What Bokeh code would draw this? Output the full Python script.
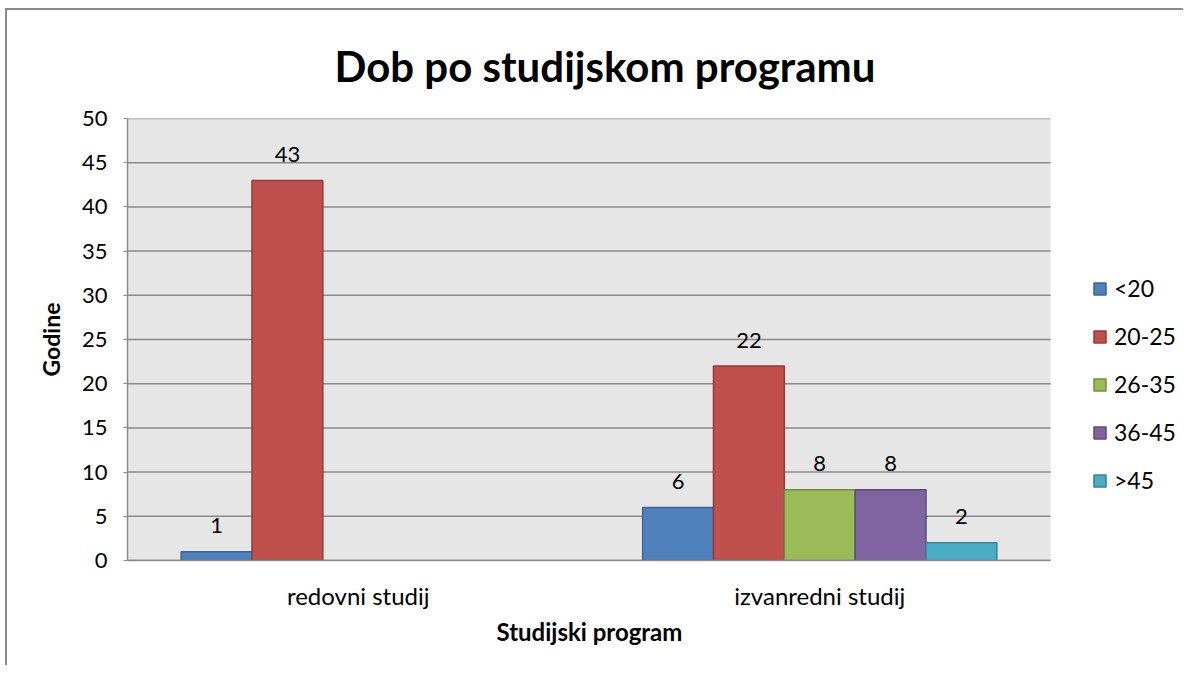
from bokeh.plotting import figure
from bokeh.models import (ColumnDataSource, FixedTicker, Legend, LegendItem, Range1d,
                          BoxAnnotation, Title)
from bokeh.core.properties import value
from bokeh.embed import file_html
from bokeh.resources import INLINE

categories = ["redovni studij", "izvanredni studij"]
groups = ["<20", "20-25", "26-35", "36-45", ">45"]
redovni = [1, 43, None, None, None]
izvanredni = [6, 22, 8, 8, 2]
fills = ["#4F81BD", "#C0504D", "#9BBB59", "#8064A2", "#4BACC6"]
edges = ["#3A6595", "#8E3B39", "#738C41", "#5E4A78", "#378096"]
y_ticks = [0, 5, 10, 15, 20, 25, 30, 35, 40, 45, 50]

FONT = "Lato"
GRID = "#8a8a8a"

n_cat = len(categories)
# frame extends past the plot area to host the legend (plot area = 0..n_cat)
x_end = n_cat * 1058 / 923

p = figure(width=1178, height=657, output_backend="svg", toolbar_location=None,
           x_range=Range1d(0, x_end), y_range=Range1d(0, 50),
           min_border_left=120, min_border_right=0, min_border_top=108, min_border_bottom=107)
p.styles = {"margin-left": "5px", "margin-top": "8px",
            "border-left": "2px solid #8a8a8a", "border-top": "2px solid #8a8a8a"}

p.title.text = "Dob po studijskom programu"
p.title.text_font = FONT
p.title.text_font_size = "42px"
p.title.text_font_style = "bold"
p.title.text_color = "#000000"
p.title.align = "left"
p.title.offset = 207
p.title.standoff = 56

p.background_fill_color = None
p.border_fill_color = "#ffffff"
p.outline_line_color = None

# plot area background
p.add_layout(BoxAnnotation(left=0, right=n_cat, fill_color="#E6E6E6", fill_alpha=1.0,
                           line_alpha=0, level="underlay"))
# horizontal grid lines over the plot area only
p.segment(x0=[0] * len(y_ticks), x1=[n_cat] * len(y_ticks), y0=y_ticks, y1=y_ticks,
          line_color=GRID, line_width=1.5)

bar_w = 0.1535
items = []
series_vals = list(zip(redovni, izvanredni))
for i, g in enumerate(groups):
    xs, tops, labels = [], [], []
    for ci, v in enumerate(series_vals[i]):
        if v is None:
            continue
        xs.append(ci + 0.5 + (i - 2) * bar_w)
        tops.append(v)
        labels.append(str(v))
    src = ColumnDataSource(dict(x=xs, top=tops, lab=labels))
    r = p.vbar(x="x", top="top", bottom=0, width=bar_w, source=src,
               fill_color=fills[i], line_color=edges[i], line_width=1.5)
    p.text(x="x", y="top", text="lab", source=src, text_align="center",
           text_baseline="middle", y_offset=-26, text_font_size="22px",
           text_font=value(FONT), text_color="#000000")
    items.append(LegendItem(label=g, renderers=[r]))

legend = Legend(items=items, location=(965, 66), orientation="vertical",
                glyph_width=15, glyph_height=15, label_height=24, spacing=20,
                label_standoff=7, padding=0, margin=0,
                label_text_font=FONT, label_text_font_size="23px",
                label_text_color="#000000",
                border_line_alpha=0, background_fill_alpha=0)
p.add_layout(legend, "center")

# y axis
p.yaxis.ticker = FixedTicker(ticks=y_ticks)
p.yaxis.axis_label = "Godine"
p.yaxis.axis_label_text_font = FONT
p.yaxis.axis_label_text_font_size = "23px"
p.yaxis.axis_label_text_font_style = "bold"
p.yaxis.axis_label_text_color = "#000000"
p.yaxis.axis_label_standoff = 14
p.yaxis.major_label_text_font = FONT
p.yaxis.major_label_text_font_size = "22px"
p.yaxis.major_label_text_color = "#000000"
p.yaxis.major_tick_out = 4
p.yaxis.major_tick_in = 0
p.yaxis.minor_tick_line_color = None
p.yaxis.major_tick_line_color = GRID
p.yaxis.axis_line_color = GRID
p.yaxis.axis_line_width = 1.5
p.yaxis.major_label_standoff = 16

# x axis
p.xaxis.ticker = FixedTicker(ticks=[0.5 + i for i in range(n_cat)])
p.xaxis.major_label_overrides = {0.5 + i: c for i, c in enumerate(categories)}
p.xaxis.bounds = (0, n_cat)
p.xaxis.major_label_text_font = FONT
p.xaxis.major_label_text_font_size = "24px"
p.xaxis.major_label_text_color = "#000000"
p.xaxis.major_tick_line_color = None
p.xaxis.minor_tick_line_color = None
p.xaxis.major_tick_out = 0
p.xaxis.major_label_standoff = 20
p.xaxis.axis_line_color = GRID
p.xaxis.axis_line_width = 1.5

# x axis title, centred under the plot area
p.add_layout(Title(text="Studijski program", text_font=FONT, text_font_size="24px",
                   text_font_style="bold", text_color="#000000", align="left",
                   offset=369, standoff=5), "below")

p.xgrid.grid_line_color = None
p.ygrid.grid_line_color = None

open("out.html", "w").write(file_html(p, INLINE))
